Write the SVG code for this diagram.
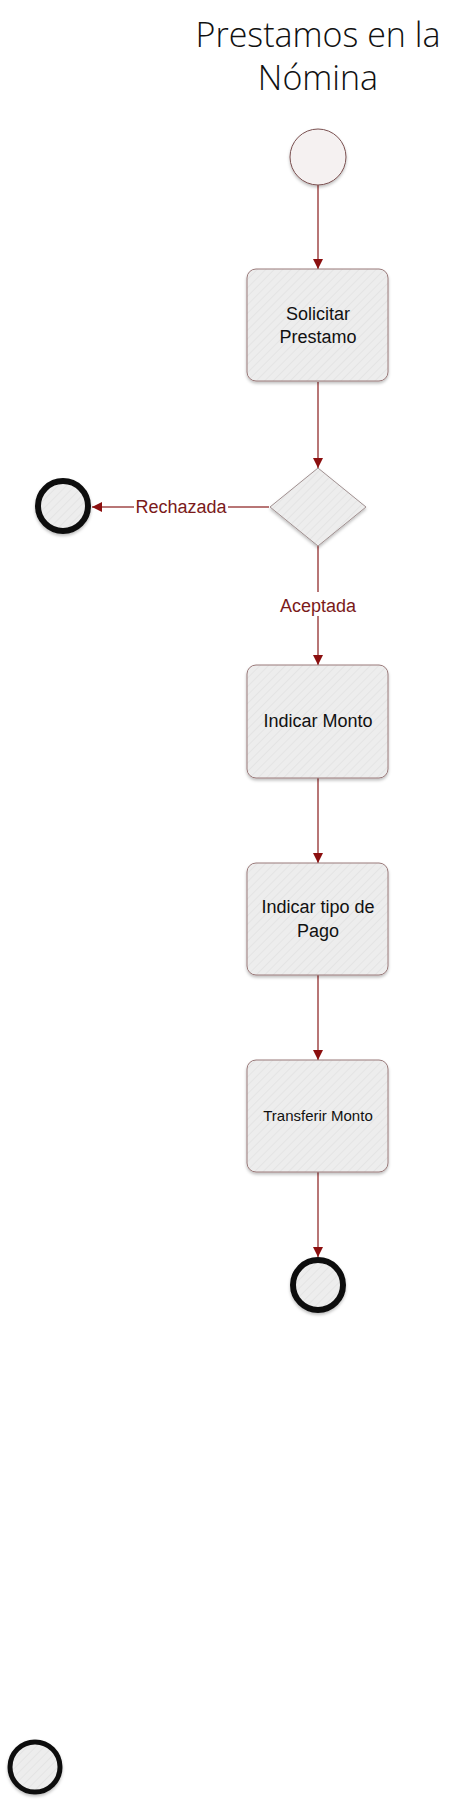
<svg xmlns="http://www.w3.org/2000/svg" width="468" height="1808" viewBox="0 0 468 1808">
<style>
.title{font-family:"Open Sans","Liberation Sans",sans-serif;font-weight:300;font-size:34px;fill:#111;text-anchor:middle}
.box{fill:url(#hatch);stroke:#9a7a7a;stroke-width:1;filter:url(#sh)}
.dia{fill:url(#hatch);stroke:#a09090;stroke-width:1;filter:url(#sh)}
.txt{font-family:"Liberation Sans",Arial,sans-serif;font-size:18px;fill:#111;text-anchor:middle}
.lbl{font-family:"Liberation Sans",Arial,sans-serif;font-size:18px;fill:#7a1a1a;text-anchor:middle}
.con{stroke:#a04848;stroke-width:1.5;fill:none;marker-end:url(#arr)}
.end{fill:url(#hatch);stroke:#111;stroke-width:6;filter:url(#sh)}
</style>
<defs>
<pattern id="hatch" patternUnits="userSpaceOnUse" width="6" height="6" patternTransform="rotate(45)">
<rect width="6" height="6" fill="#ededed"/>
<line x1="0" y1="0" x2="0" y2="6" stroke="#e4e4e4" stroke-width="2"/>
</pattern>
<filter id="sh" x="-20%" y="-20%" width="140%" height="150%">
<feDropShadow dx="0" dy="2" stdDeviation="1.5" flood-color="#000" flood-opacity="0.25"/>
</filter>
<marker id="arr" viewBox="0 0 10 10" refX="10" refY="5" markerWidth="10" markerHeight="10" markerUnits="userSpaceOnUse" orient="auto">
<path d="M0,0 L10,5 L0,10 z" fill="#8b0f0f"/>
</marker>
</defs>
<rect width="468" height="1808" fill="#fff"/>
<g id="title">
<text class="title" x="318" y="47">Prestamos en la</text>
<text class="title" x="318" y="90">Nómina</text>
</g>
<g id="connectors">
<line class="con" x1="318" y1="185" x2="318" y2="269"/>
<line class="con" x1="318" y1="382" x2="318" y2="468"/>
<line class="con" x1="269" y1="507" x2="92" y2="507"/>
<rect x="134" y="494" width="94" height="24" fill="#fff"/>
<text class="lbl" x="181" y="513">Rechazada</text>
<line class="con" x1="318" y1="546" x2="318" y2="665"/>
<rect x="277" y="592" width="82" height="24" fill="#fff"/>
<text class="lbl" x="318" y="612">Aceptada</text>
<line class="con" x1="318" y1="778" x2="318" y2="863"/>
<line class="con" x1="318" y1="975" x2="318" y2="1060"/>
<line class="con" x1="318" y1="1172" x2="318" y2="1257"/>
</g>
<g id="start">
<circle cx="318" cy="157" r="28" fill="#f5f1f1" stroke="#7a5050" stroke-width="1" filter="url(#sh)"/>
</g>
<g id="solicitar">
<rect class="box" x="247" y="269" width="141" height="112" rx="9"/>
<text class="txt" x="318" y="320">Solicitar</text>
<text class="txt" x="318" y="343">Prestamo</text>
</g>
<g id="decision">
<polygon class="dia" points="318,468 366,507 318,546 270,507"/>
</g>
<g id="rechazada-end">
<circle class="end" cx="63" cy="506" r="25"/>
</g>
<g id="indicar-monto">
<rect class="box" x="247" y="665" width="141" height="113" rx="9"/>
<text class="txt" x="318" y="727">Indicar Monto</text>
</g>
<g id="indicar-tipo">
<rect class="box" x="247" y="863" width="141" height="112" rx="9"/>
<text class="txt" x="318" y="913">Indicar tipo de</text>
<text class="txt" x="318" y="937">Pago</text>
</g>
<g id="transferir">
<rect class="box" x="247" y="1060" width="141" height="112" rx="9"/>
<text class="txt" x="318" y="1121" style="font-size:15px">Transferir Monto</text>
</g>
<g id="final">
<circle class="end" cx="318" cy="1285" r="25"/>
</g>
<g id="extra-end">
<circle class="end" cx="35" cy="1767" r="25" style="stroke-width:5"/>
</g>
</svg>
